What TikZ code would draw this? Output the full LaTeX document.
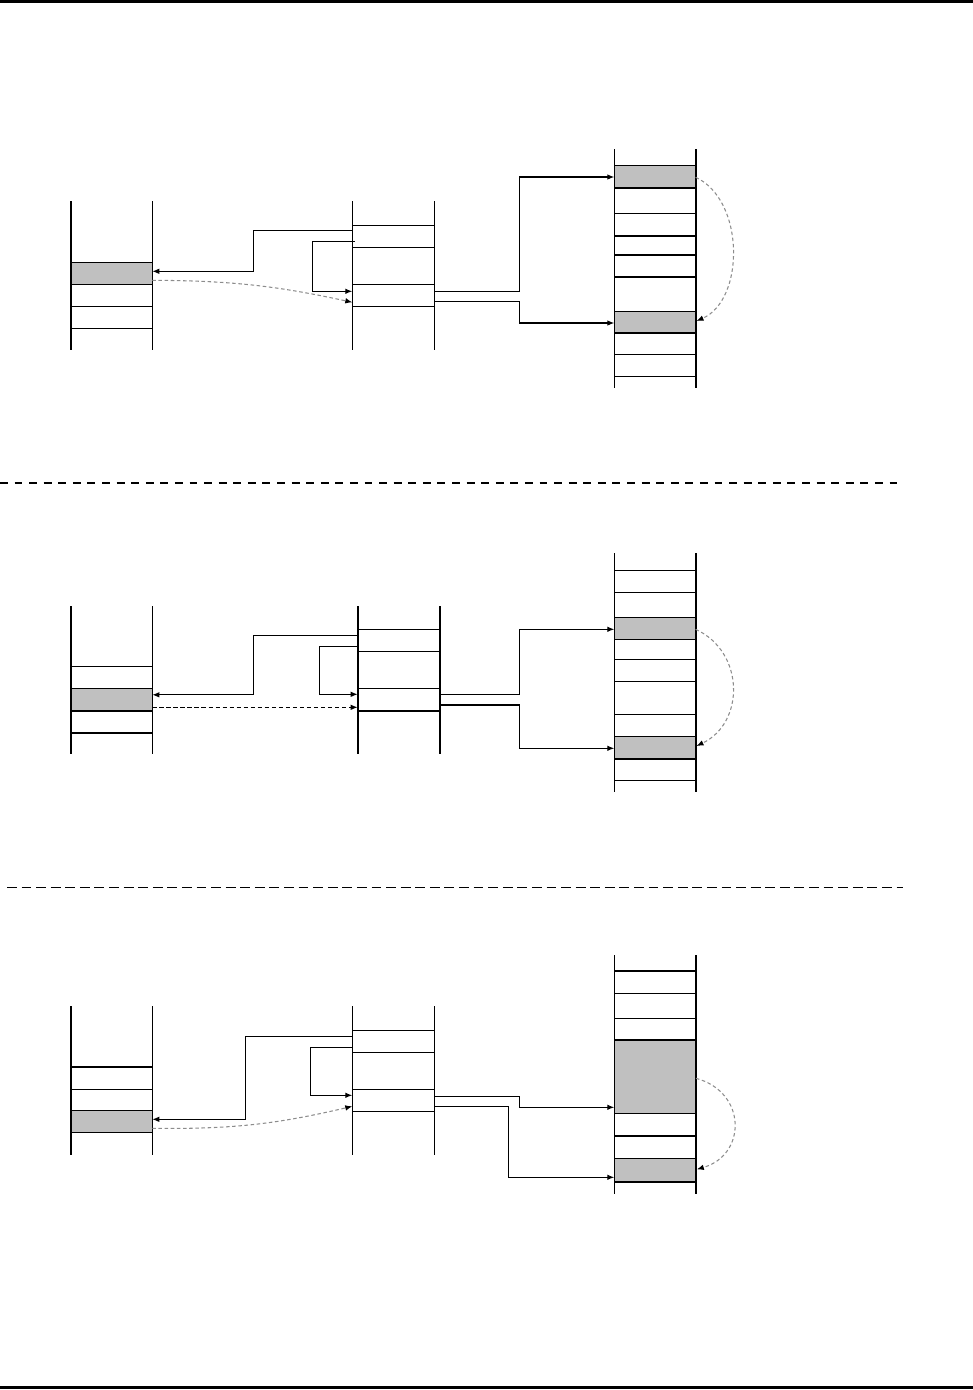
\documentclass[tikz,border=0pt]{standalone}
\usepackage{tikz}
\usetikzlibrary{arrows.meta}
\definecolor{figline}{RGB}{0,0,0}
\definecolor{figcell}{RGB}{192,192,192}
\definecolor{figdash}{RGB}{140,140,140}
\tikzset{
  ln/.style   ={draw=figline, line width=0.65pt},
  lnb/.style  ={draw=figline, line width=1.3pt},
  gc/.style   ={fill=figcell, draw=figline, line width=0.65pt},
  ptr/.style  ={draw=figline, line width=0.65pt, -{Latex[length=4pt,width=3.2pt]}},
  dptr/.style ={draw=figdash, line width=0.6pt, dash pattern=on 2pt off 1.5pt, -{Latex[length=4pt,width=3.2pt,color=figline]}},
  dptrb/.style={draw=figline, line width=0.65pt, dash pattern=on 2.5pt off 1.5pt, -{Latex[length=4pt,width=3.2pt]}},
  sepa/.style ={draw=figline, line width=1.2pt, dash pattern=on 4.5pt off 3.8pt},
  sepb/.style ={draw=figline, line width=0.8pt, dash pattern=on 5.6pt off 2.7pt},
  edge/.style ={draw=figline, line width=1.8pt},
}
\begin{document}
\begin{tikzpicture}[x=0.02cm,y=-0.02cm]
  \useasboundingbox (0,0) rectangle (973,1390);
  \draw[edge] (0,1.5) -- (973,1.5);
  \draw[edge] (0,1387.5) -- (973,1387.5);
  \draw[sepa] (0,483) -- (897,483);
  \draw[sepb] (7,887.7) -- (903,887.7);

  \filldraw[gc] (70.7,262.3) rectangle (152.3,284.3);
  \draw[lnb] (70.7,201) -- (70.7,350);
  \draw[ln] (152.3,201) -- (152.3,350);
  \draw[ln] (70.7,306.3) -- (152.3,306.3);
  \draw[ln] (70.7,328.3) -- (152.3,328.3);
  \draw[ln] (352.3,201) -- (352.3,350);
  \draw[ln] (434.3,201) -- (434.3,350);
  \draw[ln] (352.3,225.3) -- (434.3,225.3);
  \draw[ln] (352.3,247.3) -- (434.3,247.3);
  \draw[ln] (352.3,284.3) -- (434.3,284.3);
  \draw[ln] (352.3,306.3) -- (434.3,306.3);
  \filldraw[gc] (614.3,165.3) rectangle (695.7,187.7);
  \filldraw[gc] (614.3,311.7) rectangle (695.7,333.3);
  \draw[ln] (614.3,149.3) -- (614.3,388);
  \draw[lnb] (695.7,149.3) -- (695.7,388);
  \draw[lnb] (614.3,187.7) -- (695.7,187.7);
  \draw[ln] (614.3,213.3) -- (695.7,213.3);
  \draw[lnb] (614.3,235.7) -- (695.7,235.7);
  \draw[lnb] (614.3,254.7) -- (695.7,254.7);
  \draw[lnb] (614.3,276.7) -- (695.7,276.7);
  \draw[lnb] (614.3,333.3) -- (695.7,333.3);
  \draw[ln] (614.3,354.7) -- (695.7,354.7);
  \draw[ln] (614.3,376.7) -- (695.7,376.7);
  \coordinate (l1in) at (152.3,271.3);
  \coordinate (l1out) at (152.3,280.3);
  \coordinate (m1a) at (352.3,230.3);
  \coordinate (m1b) at (354.5,241.3);
  \coordinate (m1in) at (352.3,291.3);
  \coordinate (m1d) at (352.3,302.3);
  \coordinate (m1c) at (434.3,291.3);
  \coordinate (m1e) at (434.3,301.3);
  \coordinate (r1a) at (614.3,177);
  \coordinate (r1b) at (614.3,323);
  \coordinate (r1s) at (695.7,177.3);
  \coordinate (r1t) at (696.5,321);
  \draw[ptr] (m1a) -- (253.3,230.3) |- (l1in);
  \draw[ptr] (m1b) -- (312.3,241.3) |- (m1in);
  \draw[dptr] (l1out) to[bend left=6] (m1d);
  \draw[ptr] (m1c) -- (519.3,291.3) |- (r1a);
  \draw[ptr] (m1e) -- (519.3,301.3) |- (r1b);
  \draw[dptr] (r1s) .. controls (745,200) and (745,300) .. (r1t);

  \filldraw[gc] (70.7,688.3) rectangle (152.3,710.7);
  \draw[lnb] (70.7,606) -- (70.7,753.7);
  \draw[ln] (152.3,606) -- (152.3,753.7);
  \draw[ln] (70.7,666.3) -- (152.3,666.3);
  \draw[lnb] (70.7,710.7) -- (152.3,710.7);
  \draw[lnb] (70.7,732.7) -- (152.3,732.7);
  \draw[lnb] (357.7,606) -- (357.7,754.3);
  \draw[lnb] (439.7,606) -- (439.7,754.3);
  \draw[ln] (357.7,629.3) -- (439.7,629.3);
  \draw[ln] (357.7,651.3) -- (439.7,651.3);
  \draw[ln] (357.7,688.3) -- (439.7,688.3);
  \draw[lnb] (357.7,711) -- (439.7,711);
  \filldraw[gc] (614.3,617.3) rectangle (695.7,639.3);
  \filldraw[gc] (614.3,736.7) rectangle (695.7,758.7);
  \draw[ln] (614.3,553.3) -- (614.3,792.3);
  \draw[lnb] (695.7,553.3) -- (695.7,792.3);
  \draw[ln] (614.3,570.3) -- (695.7,570.3);
  \draw[ln] (614.3,592.3) -- (695.7,592.3);
  \draw[ln] (614.3,659.3) -- (695.7,659.3);
  \draw[ln] (614.3,681.7) -- (695.7,681.7);
  \draw[ln] (614.3,714.3) -- (695.7,714.3);
  \draw[lnb] (614.3,758.7) -- (695.7,758.7);
  \draw[ln] (614.3,780.3) -- (695.7,780.3);
  \coordinate (l2in) at (152.3,694.8);
  \coordinate (l2out) at (152.3,707.3);
  \coordinate (m2a) at (357.7,635.3);
  \coordinate (m2b) at (357.7,646.3);
  \coordinate (m2in) at (357.7,694.3);
  \coordinate (m2d) at (357.7,707.3);
  \coordinate (m2c) at (439.7,694.3);
  \coordinate (m2e) at (439.7,705);
  \coordinate (r2a) at (614.3,629.3);
  \coordinate (r2b) at (614.3,748.3);
  \coordinate (r2s) at (695.7,629.3);
  \coordinate (r2t) at (696.5,746);
  \draw[ptr] (m2a) -- (253.3,635.3) |- (l2in);
  \draw[ptr] (m2b) -- (319.3,646.3) |- (m2in);
  \draw[dptrb] (l2out) -- (m2d);
  \draw[ptr] (m2c) -- (519.3,694.3) |- (r2a);
  \draw[ptr] (m2e) -- (519.3,705) |- (r2b);
  \draw[dptr] (r2s) .. controls (745,652) and (745,723) .. (r2t);

  \filldraw[gc] (70.7,1110.3) rectangle (152.3,1132.3);
  \draw[lnb] (70.7,1006) -- (70.7,1154.7);
  \draw[ln] (152.3,1006) -- (152.3,1154.7);
  \draw[lnb] (70.7,1067) -- (152.3,1067);
  \draw[ln] (70.7,1089.3) -- (152.3,1089.3);
  \draw[ln] (352.3,1006) -- (352.3,1154.7);
  \draw[ln] (434.3,1006) -- (434.3,1154.7);
  \draw[ln] (352.3,1030.3) -- (434.3,1030.3);
  \draw[ln] (352.3,1052.3) -- (434.3,1052.3);
  \draw[ln] (352.3,1089.3) -- (434.3,1089.3);
  \draw[ln] (352.3,1111.3) -- (434.3,1111.3);
  \filldraw[gc] (614.3,1040) rectangle (696,1113.3);
  \filldraw[gc] (614.3,1158.3) rectangle (696,1182);
  \draw[ln] (614.3,955) -- (614.3,1194);
  \draw[ln] (696,955) -- (696,1194);
  \draw[lnb] (696,1040) -- (696,1113.3);
  \draw[lnb] (696,1158.3) -- (696,1182);
  \draw[lnb] (614.3,971) -- (696,971);
  \draw[ln] (614.3,993.3) -- (696,993.3);
  \draw[ln] (614.3,1018.3) -- (696,1018.3);
  \draw[lnb] (614.3,1040) -- (696,1040);
  \draw[lnb] (614.3,1135.7) -- (696,1135.7);
  \coordinate (l3in) at (152.3,1119.3);
  \coordinate (l3out) at (152.3,1128.3);
  \coordinate (m3a) at (352.3,1036.3);
  \coordinate (m3b) at (352.3,1047.3);
  \coordinate (m3in) at (352.3,1095.3);
  \coordinate (m3d) at (352.3,1106.3);
  \coordinate (m3c) at (434.3,1096.3);
  \coordinate (m3e) at (434.3,1106.3);
  \coordinate (r3a) at (614.3,1107.3);
  \coordinate (r3b) at (614.3,1177.3);
  \coordinate (r3s) at (696,1078.3);
  \coordinate (r3t) at (696.8,1169.3);
  \draw[ptr] (m3a) -- (245.3,1036.3) |- (l3in);
  \draw[ptr] (m3b) -- (310.3,1047.3) |- (m3in);
  \draw[dptr] (l3out) to[bend right=7] (m3d);
  \draw[ptr] (m3c) -- (519.3,1096.3) |- (r3a);
  \draw[ptr] (m3e) -- (508.3,1106.3) |- (r3b);
  \draw[dptr] (r3s) .. controls (747,1092) and (747,1155) .. (r3t);
\end{tikzpicture}
\end{document}
